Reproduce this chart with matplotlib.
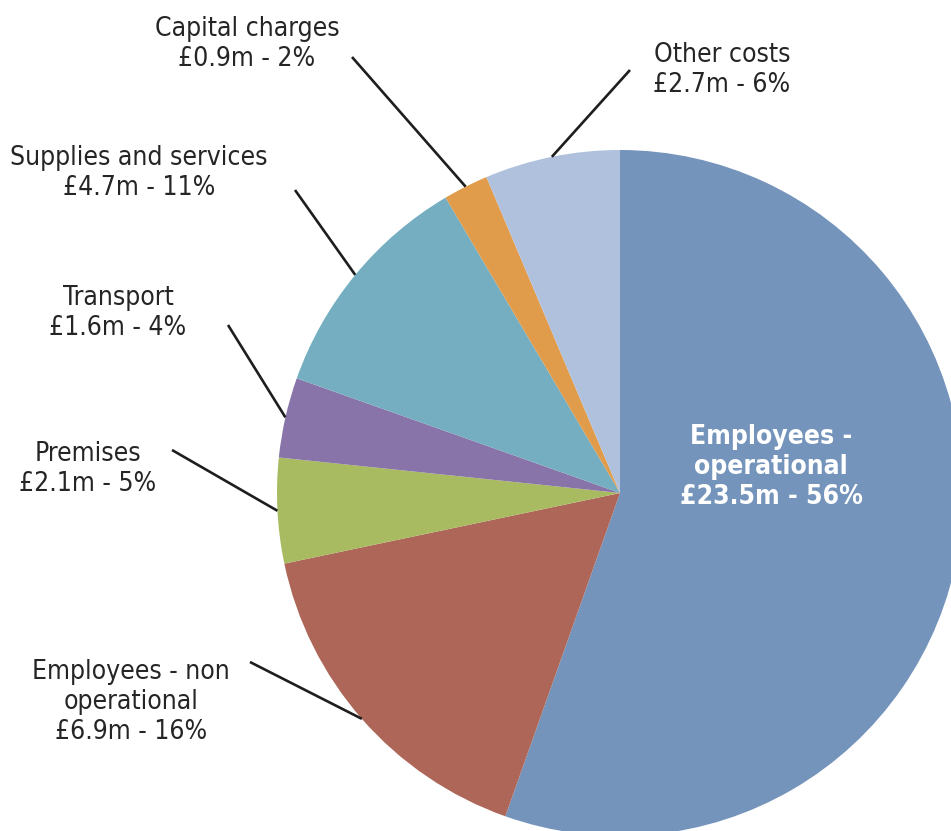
import numpy as np
import matplotlib
matplotlib.use("Agg")
import matplotlib.pyplot as plt
from matplotlib import font_manager

# Expenditure breakdown (£m), drawn clockwise from 12 o'clock
categories = ["Employees - operational", "Employees - non operational", "Premises",
              "Transport", "Supplies and services", "Capital charges", "Other costs"]
values = [23.5, 6.9, 2.1, 1.6, 4.7, 0.9, 2.7]
percents = [56, 16, 5, 4, 11, 2, 6]
label_names = ["Employees -\noperational", "Employees - non\noperational", "Premises",
               "Transport", "Supplies and services", "Capital charges", "Other costs"]

colors = ["#7494bb", "#ad6657", "#a8bb60", "#8874a8", "#74aec0", "#e09c4a", "#b0c1de"]

# pick a narrow sans face if one is installed
names = {f.name for f in font_manager.fontManager.ttflist}
if "Liberation Sans Narrow" in names:
    FONT = dict(family="Liberation Sans Narrow")
    FS = 21
else:
    FONT = dict(family="DejaVu Sans", stretch="condensed")
    FS = 19

W, H = 951, 831
fig = plt.figure(figsize=(W / 100, H / 100), dpi=100)
ax = fig.add_axes([0, 0, 1, 1])

cx, cy, r = 620, H - 493, 343
wedges, _ = ax.pie(values, colors=colors, startangle=90, counterclock=False,
                   center=(cx, cy), radius=r, frame=True,
                   wedgeprops=dict(linewidth=0))
ax.set_xlim(0, W)
ax.set_ylim(0, H)
ax.set_aspect("equal")
ax.axis("off")

def money(v, p):
    return f"£{v}m - {p}%"

# outside labels: text centre (pixels from top-left) and leader end point
outside = {
    1: dict(text=(131, 702), end=(250, 662)),
    2: dict(text=(88, 469), end=(172, 450)),
    3: dict(text=(118, 313), end=(228, 325)),
    4: dict(text=(139, 173), end=(295, 190)),
    5: dict(text=(247, 44), end=(352, 57)),
    6: dict(text=(722, 70), end=(630, 70)),
}

for i, spec in outside.items():
    w = wedges[i]
    mid = np.deg2rad((w.theta1 + w.theta2) / 2)
    sx, sy = cx + r * np.cos(mid), cy + r * np.sin(mid)
    ex, ey = spec["end"][0], H - spec["end"][1]
    ax.plot([sx, ex], [sy, ey], color="#1e1e1e", lw=1.9, solid_capstyle="butt")
    tx, ty = spec["text"]
    ax.text(tx, H - ty, f"{label_names[i]}\n{money(values[i], percents[i])}",
            ha="center", va="center", fontsize=FS, color="#252525",
            linespacing=1.2, **FONT)

ax.text(771, H - 467, f"{label_names[0]}\n{money(values[0], percents[0])}",
        ha="center", va="center", fontsize=FS, color="white", fontweight="bold",
        linespacing=1.2, **FONT)

fig.savefig("out.png", dpi=100, facecolor="white")
